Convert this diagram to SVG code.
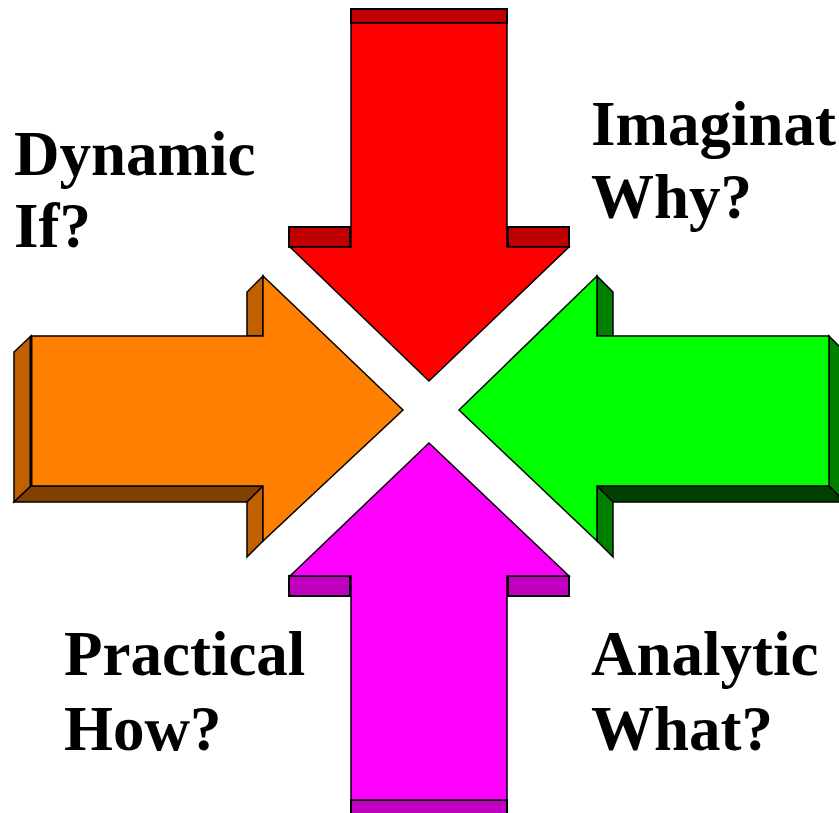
<svg xmlns="http://www.w3.org/2000/svg" width="839" height="813" viewBox="0 0 839 813">
  <style>
    .edge { stroke: #000; stroke-width: 1.5; stroke-linejoin: miter; }
    .rim { stroke: #000; stroke-width: 2; }
    .label { font-family: "Liberation Serif", "Times New Roman", serif; font-weight: bold; font-size: 63px; fill: #000; }
  </style>
  <rect x="0" y="0" width="839" height="813" fill="#fff"/>

  <!-- Down arrow (red) -->
  <g id="arrow-down">
    <rect class="rim" x="351" y="9" width="156" height="14" fill="#C00000"/>
    <rect class="rim" x="289" y="227" width="61" height="20" fill="#C00000"/>
    <rect class="rim" x="508" y="227" width="61" height="20" fill="#C00000"/>
    <polygon class="edge" fill="#FF0000" points="351,23 507,23 507,247 569,247 429,381 290,247 351,247"/>
  </g>

  <!-- Up arrow (magenta) -->
  <g id="arrow-up">
    <rect class="rim" x="351" y="800" width="156" height="16" fill="#C000C0"/>
    <rect class="rim" x="289" y="576" width="61" height="20" fill="#C000C0"/>
    <rect class="rim" x="508" y="576" width="61" height="20" fill="#C000C0"/>
    <polygon class="edge" fill="#FF00FF" points="351,800 507,800 507,576 569,576 429,443 290,576 351,576"/>
  </g>

  <!-- Right arrow (orange) -->
  <g id="arrow-right">
    <polygon class="edge" fill="#C06000" points="31,336 14,352 14,502 31,486"/>
    <polygon class="edge" fill="#804000" points="31,486 263,486 247,502 14,502"/>
    <polygon class="edge" fill="#C06000" points="263,276 247,292 247,336 263,336"/>
    <polygon class="edge" fill="#C06000" points="263,486 247,502 247,557 263,541"/>
    <polygon class="edge" fill="#FF8000" points="31,336 263,336 263,276 403,410 263,541 263,486 31,486"/>
    <line x1="31" y1="336" x2="31" y2="486" stroke="#000" stroke-width="3"/>
  </g>

  <!-- Left arrow (green) -->
  <g id="arrow-left">
    <polygon class="edge" fill="#008000" points="829,336 845,352 845,502 829,486"/>
    <polygon class="edge" fill="#004000" points="597,486 829,486 845,502 613,502"/>
    <polygon class="edge" fill="#008000" points="597,276 613,292 613,336 597,336"/>
    <polygon class="edge" fill="#008000" points="597,486 613,502 613,557 597,541"/>
    <polygon class="edge" fill="#00FF00" points="829,336 597,336 597,276 459,410 597,541 597,486 829,486"/>
  </g>

  <!-- Quadrant captions -->
  <g id="label-dynamic">
    <text class="label" x="14" y="175">Dynamic</text>
    <text class="label" x="14" y="247">If?</text>
  </g>
  <g id="label-imaginative">
    <text class="label" x="591" y="145">Imaginat</text>
    <text class="label" x="591" y="218">Why?</text>
  </g>
  <g id="label-practical">
    <text class="label" x="64" y="675">Practical</text>
    <text class="label" x="64" y="750">How?</text>
  </g>
  <g id="label-analytic">
    <text class="label" x="591" y="675">Analytic</text>
    <text class="label" x="591" y="750">What?</text>
  </g>

  <!-- no connectors between the arrows -->
  <g id="connectors"/>
</svg>
